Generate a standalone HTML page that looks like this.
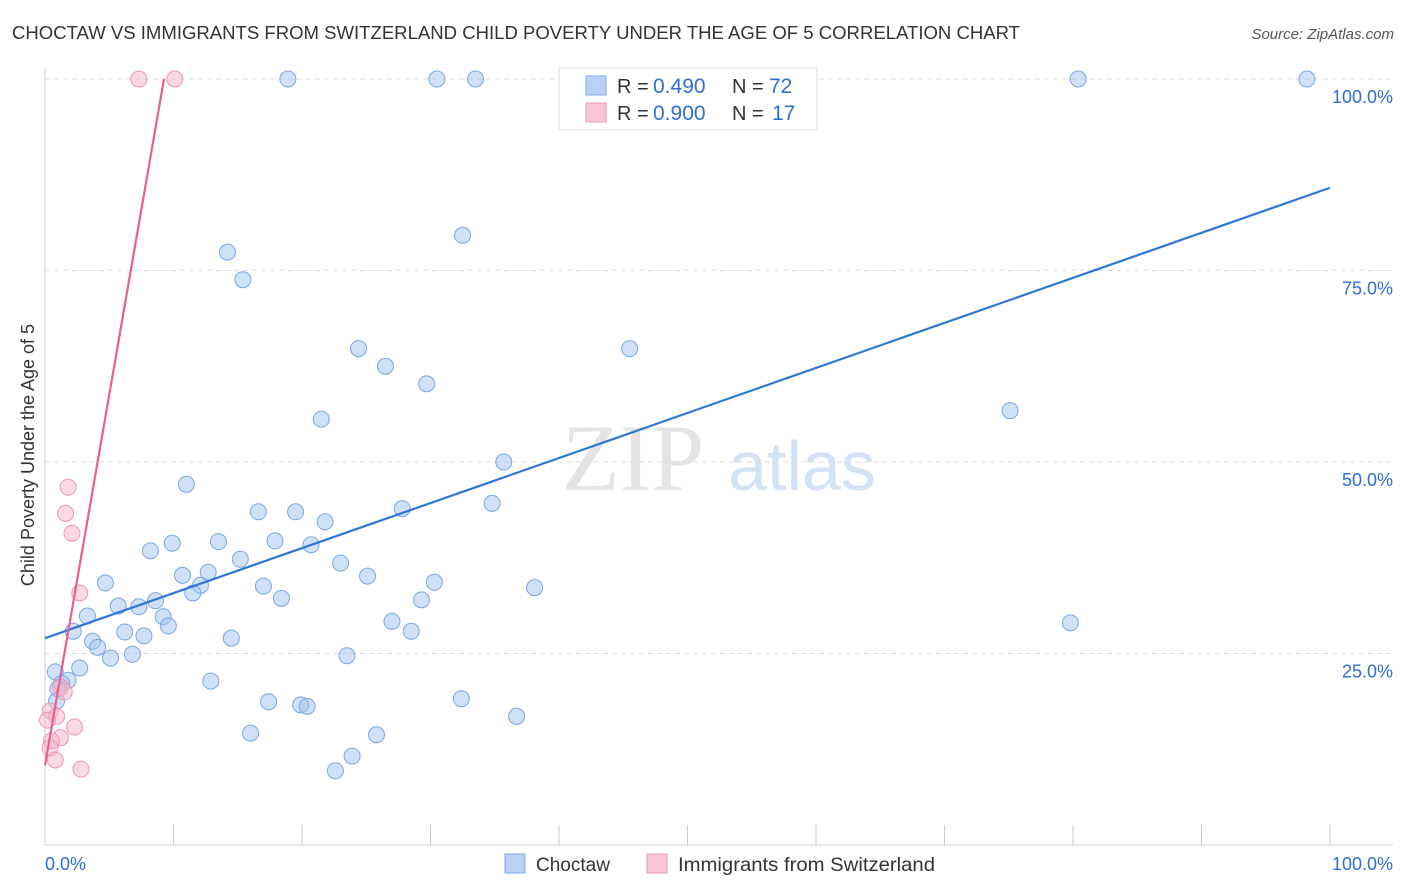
<!DOCTYPE html>
<html><head><meta charset="utf-8"><style>
body{margin:0;background:#fff;font-family:"Liberation Sans",sans-serif}
svg{display:block}
</style></head><body>
<svg id="chart" width="1406" height="892">
<text x="12" y="39" font-size="18" fill="#333" textLength="1008" lengthAdjust="spacingAndGlyphs">CHOCTAW VS IMMIGRANTS FROM SWITZERLAND CHILD POVERTY UNDER THE AGE OF 5 CORRELATION CHART</text>
<text x="1394" y="39" font-size="15" fill="#555" font-style="italic" text-anchor="end">Source: ZipAtlas.com</text>
<text transform="translate(34,455) rotate(-90)" font-size="18" fill="#333" text-anchor="middle">Child Poverty Under the Age of 5</text>
<text x="633" y="490" font-size="95" fill="#e4e4e4" font-family="Liberation Serif,serif" text-anchor="middle">ZIP</text>
<text x="802" y="490" font-size="70" fill="#d4e2f5" text-anchor="middle">atlas</text>
<g id="grid"></g><g id="marks"></g>
<g>
<rect x="559" y="68" width="258" height="62" fill="#fff" stroke="#ddd"/>
<rect x="586" y="76" width="20" height="19" fill="#b8d2f5" stroke="#7da9e6"/>
<rect x="586" y="103" width="20" height="19" fill="#f8c6d5" stroke="#eb9ab5"/>
<text x="617" y="93" font-size="20" fill="#333">R =</text>
<text x="653" y="93" font-size="21" fill="#2f6fd0">0.490</text>
<text x="732" y="93" font-size="20" fill="#333">N =</text>
<text x="769" y="93" font-size="21" fill="#2f6fd0">72</text>
<text x="617" y="120" font-size="20" fill="#333">R =</text>
<text x="653" y="120" font-size="21" fill="#2f6fd0">0.900</text>
<text x="732" y="120" font-size="20" fill="#333">N =</text>
<text x="772" y="120" font-size="21" fill="#2f6fd0">17</text>
</g>
<g>
<rect x="505" y="854" width="20" height="19" fill="#b8d2f5" stroke="#7da9e6"/>
<text x="536" y="871" font-size="19" fill="#333">Choctaw</text>
<rect x="647" y="854" width="20" height="19" fill="#f8c6d5" stroke="#eb9ab5"/>
<text x="678" y="871" font-size="19" fill="#333" textLength="257" lengthAdjust="spacingAndGlyphs">Immigrants from Switzerland</text>
</g>
</svg>
<script>
const blueX=[18.9,30.5,33.5,80.4,98.2,32.5,14.2,15.4,24.4,45.5,26.5,29.7,75.1,21.5,35.7,11.0,34.8,16.6,19.5,27.8,21.8,9.9,13.5,8.2,17.9,20.7,15.2,23.0,25.1,10.7,12.7,4.7,30.3,12.1,17.0,38.1,11.5,18.4,29.3,8.6,5.7,7.3,3.3,9.2,9.6,27.0,2.2,28.5,79.8,6.2,7.7,14.5,3.7,4.1,6.8,5.1,23.5,2.7,0.8,12.9,1.8,1.3,1.0,17.4,19.9,20.4,32.4,36.7,0.9,16.0,25.8,23.9,22.6];
const blueY=[100,100,100,100,100,79.6,77.4,73.8,64.8,64.8,62.5,60.2,56.7,55.6,50.0,47.1,44.6,43.5,43.5,43.9,42.2,39.4,39.6,38.4,39.7,39.2,37.3,36.8,35.1,35.2,35.6,34.2,34.3,33.9,33.8,33.6,32.9,32.2,32.0,31.9,31.2,31.1,29.9,29.8,28.6,29.2,27.9,27.9,29.0,27.8,27.3,27.0,26.6,25.8,24.9,24.4,24.7,23.1,22.6,21.4,21.5,21.1,20.4,18.7,18.3,18.1,19.1,16.8,18.8,14.6,14.4,11.6,9.7];
const pinkX=[7.3,10.1,1.8,1.6,2.1,2.7,1.2,1.5,0.4,0.9,2.3,1.2,0.5,0.4,0.8,2.8,0.2];
const pinkY=[100,100,46.7,43.3,40.7,32.9,20.6,20.0,17.5,16.8,15.4,14.0,13.6,12.7,11.1,9.9,16.3];
const blueLine=[[0,27.0],[100,85.8]];
const pinkLine=[[0,10.4],[9.26,100]];
const yTicks=[25,50,75,100];
const yTickLabels=["25.0%","50.0%","75.0%","100.0%"];
const xTicks=[0,10,20,30,40,50,60,70,80,90,100];
const X=v=>45+v*12.85, Y=v=>845-v*7.66;
const ns="http://www.w3.org/2000/svg";
function mk(p,t,a){const e=document.createElementNS(ns,t);for(const k in a)e.setAttribute(k,a[k]);p.appendChild(e);return e;}
const grid=document.getElementById('grid'),marks=document.getElementById('marks');
mk(grid,'line',{x1:45,y1:68,x2:45,y2:845,stroke:'#ccc'});
mk(grid,'line',{x1:45,y1:845,x2:1393,y2:845,stroke:'#ccc'});
yTicks.forEach((t,i)=>{
 const l=mk(grid,'line',{x1:45,x2:1393,y1:Y(t),y2:Y(t),stroke:'#ddd','stroke-dasharray':'5,4'});
 
 
 const tx=mk(grid,'text',{x:1393,y:Y(t)+24,'font-size':18,fill:'#2f6fd0','text-anchor':'end'});
 tx.textContent=yTickLabels[i];
 
 
});
xTicks.forEach(t=>{const l=mk(grid,'line',{x1:X(t),x2:X(t),y1:825,y2:845,stroke:'#ccc'});
 
 });
[[0,'0.0%','start',45],[100,'100.0%','end',1393]].forEach(a=>{const tx=mk(grid,'text',{x:a[3],y:870,'font-size':18,fill:'#2f6fd0','text-anchor':a[2]});tx.textContent=a[1];
 
 });
blueX.forEach((v,i)=>{const c=mk(marks,'circle',{cx:X(v),cy:Y(blueY[i]),r:8,fill:'rgba(160,195,240,0.5)',stroke:'#7aa6e3','stroke-width':1});
 
 });
pinkX.forEach((v,i)=>{const c=mk(marks,'circle',{cx:X(v),cy:Y(pinkY[i]),r:8,fill:'rgba(245,180,200,0.5)',stroke:'#ea98b2','stroke-width':1});
 
 });
const bl=mk(marks,'line',{x1:X(blueLine[0][0]),y1:Y(blueLine[0][1]),x2:X(blueLine[1][0]),y2:Y(blueLine[1][1]),stroke:'#2f76d6','stroke-width':2.2});


const pl=mk(marks,'line',{x1:X(pinkLine[0][0]),y1:Y(pinkLine[0][1]),x2:X(pinkLine[1][0]),y2:Y(pinkLine[1][1]),stroke:'#e8608f','stroke-width':2.2});


</script>
</body></html>
